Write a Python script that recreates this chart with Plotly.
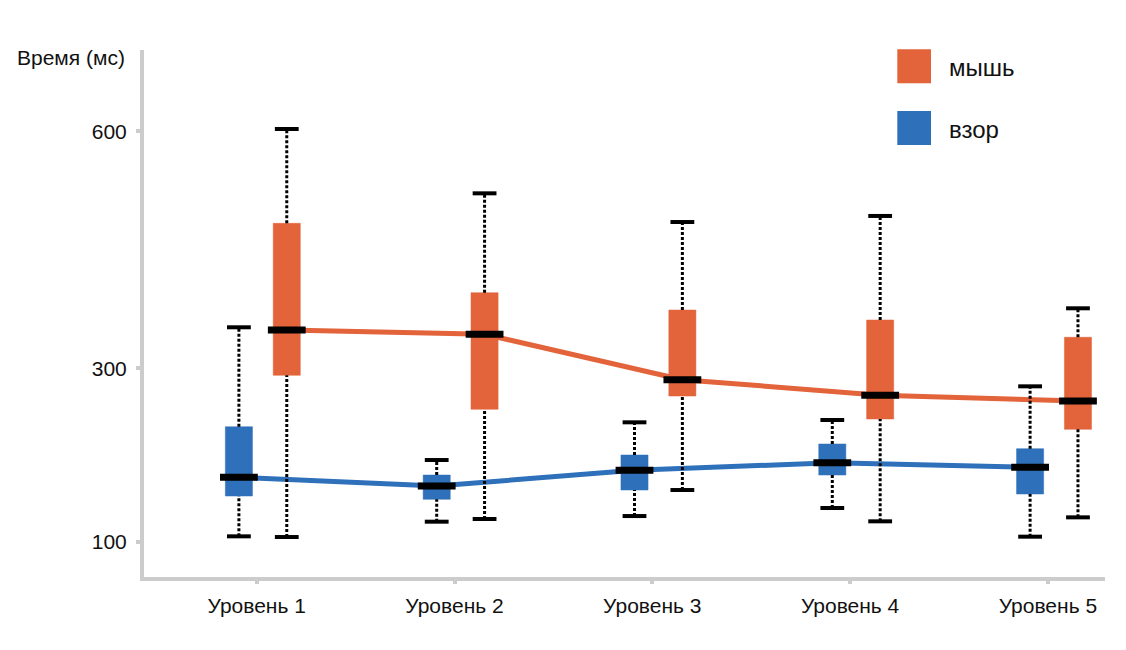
import plotly.graph_objects as go

# ---------------- data ----------------
levels = ["Уровень 1", "Уровень 2", "Уровень 3", "Уровень 4", "Уровень 5"]

mouse_low = [105.4, 126.2, 159.6, 123.5, 128.1]
mouse_q1 = [291.9, 252.7, 268.0, 241.5, 229.6]
mouse_med = [344.2, 339.2, 286.9, 268.9, 262.3]
mouse_q3 = [467.2, 387.2, 367.2, 355.7, 335.8]
mouse_high = [576.0, 501.8, 468.7, 475.7, 369.2]

gaze_low = [106.2, 123.1, 129.6, 138.9, 105.8]
gaze_q1 = [152.7, 148.9, 159.6, 176.9, 155.0]
gaze_med = [174.3, 164.2, 182.4, 191.1, 185.8]
gaze_q3 = [232.6, 176.9, 200.0, 212.7, 207.3]
gaze_high = [347.3, 194.2, 237.7, 240.4, 279.2]

y_tick_vals = [100, 300, 573.4]
y_tick_text = ["100", "300", "600"]

series_names = ["мышь", "взор"]

# ---------------- style ----------------
ORANGE = "#E3633A"
BLUE = "#2E70BA"
AXIS = "#CCCCCC"
TXT = "#111111"
FONT = "Liberation Sans, Arial, sans-serif"
BOX_W = 0.137
OFFSETS = {"мышь": 0.152, "взор": -0.090}

W, H = 1126, 650
ML, MR, MT, MB = 144, 21, 50, 73
PW, PH = W - ML - MR, H - MT - MB


def px_x(px):
    return (px - ML) / PW


def px_y(py):
    return (H - MB - py) / PH


idx = list(range(1, len(levels) + 1))
fig = go.Figure()


def add_series(name, color, med):
    off = OFFSETS[name]
    xs = [i + off for i in idx]
    fig.add_trace(go.Scatter(x=xs, y=med, mode="lines",
                             line=dict(color=color, width=5),
                             hoverinfo="skip", showlegend=False))
    return xs


def add_boxes(color, xs, low, q1, med, q3, high):
    bx, by = [], []
    for x, a, b in zip(xs, q1, q3):
        x0, x1 = x - BOX_W / 2, x + BOX_W / 2
        bx += [x0, x1, x1, x0, x0, None]
        by += [a, a, b, b, a, None]
    fig.add_trace(go.Scatter(x=bx, y=by, mode="lines", fill="toself",
                             fillcolor=color, line=dict(color=color, width=0.5),
                             hoverinfo="skip", showlegend=False))
    wx, wy = [], []
    for x, lo, a, b, hi in zip(xs, low, q1, q3, high):
        wx += [x, x, None, x, x, None]
        wy += [lo, a, None, b, hi, None]
    fig.add_trace(go.Scatter(x=wx, y=wy, mode="lines",
                             line=dict(color="black", width=3, dash="3px,2px"),
                             hoverinfo="skip", showlegend=False))
    fig.add_trace(go.Scatter(x=xs, y=med, mode="markers",
                             marker=dict(symbol="line-ew", size=27,
                                         line=dict(color="black", width=7)),
                             hoverinfo="skip", showlegend=False))
    fig.add_trace(go.Scatter(x=xs + xs, y=list(low) + list(high), mode="markers",
                             marker=dict(symbol="line-ew", size=17,
                                         line=dict(color="black", width=4)),
                             hoverinfo="skip", showlegend=False))


xs_m = add_series("мышь", ORANGE, mouse_med)
xs_g = add_series("взор", BLUE, gaze_med)
add_boxes(ORANGE, xs_m, mouse_low, mouse_q1, mouse_med, mouse_q3, mouse_high)
add_boxes(BLUE, xs_g, gaze_low, gaze_q1, gaze_med, gaze_q3, gaze_high)

step = 197.8
x_left = 1 - (256.7 - ML) / step
x_right = x_left + PW / step

fig.update_layout(
    width=W, height=H,
    margin=dict(l=ML, r=MR, t=MT, b=MB, pad=0),
    paper_bgcolor="white", plot_bgcolor="white",
    font=dict(family=FONT, size=21, color=TXT),
    showlegend=False,
    xaxis=dict(range=[x_left, x_right], tickvals=idx, ticktext=levels,
               showgrid=False, zeroline=False, showline=True,
               linecolor=AXIS, linewidth=4, ticks="outside", ticklen=3,
               tickwidth=4, tickcolor=AXIS, ticklabelstandoff=4,
               tickfont=dict(size=21, color=TXT)),
    yaxis=dict(range=[59.3, 667.1], tickvals=y_tick_vals, ticktext=y_tick_text,
               showgrid=False, zeroline=False, showline=True,
               linecolor=AXIS, linewidth=4, ticks="outside", ticklen=4,
               tickwidth=4, tickcolor=AXIS, ticklabelstandoff=5,
               tickfont=dict(size=21, color=TXT)),
)

fig.add_annotation(text="Время (мс)", xref="paper", yref="paper",
                   x=px_x(127), y=px_y(57), xanchor="right", yanchor="middle",
                   showarrow=False, font=dict(size=21, color=TXT))

legend_items = [(series_names[0], ORANGE, 49.3), (series_names[1], BLUE, 111.0)]
for name, color, top in legend_items:
    fig.add_shape(type="rect", xref="paper", yref="paper",
                  x0=px_x(897.3), x1=px_x(931), y0=px_y(top + 34), y1=px_y(top),
                  fillcolor=color, line=dict(width=0))
    fig.add_annotation(text=name, xref="paper", yref="paper",
                       x=px_x(947), y=px_y(top + 18), xanchor="left", yanchor="middle",
                       showarrow=False, font=dict(size=24, color=TXT))

fig.write_html("out.html")
